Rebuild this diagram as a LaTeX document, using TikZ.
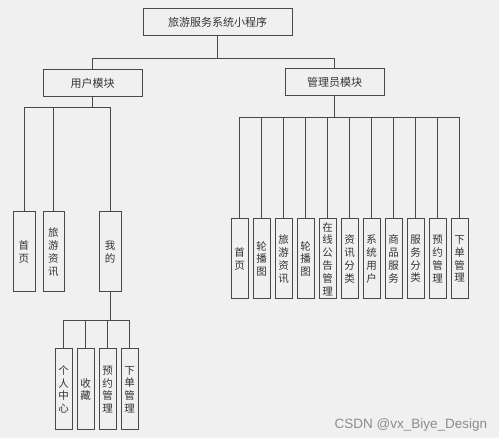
\documentclass[tikz,border=0pt]{standalone}
\usepackage{fontspec}
\setmainfont{Noto Sans CJK SC}
\newfontfamily\wmfont{Liberation Sans}
\definecolor{bg}{HTML}{F0F0F0}
\definecolor{ln}{HTML}{484848}

\begin{document}
\begin{tikzpicture}[x=1pt, y=1pt, line width=1pt,
    box/.style = {draw=ln, fill=bg, inner sep=0pt, font=\fontsize{10.5}{12.8}\selectfont, text=black!80},
    wide/.style = {box, minimum height=27pt, font=\fontsize{11}{13}\selectfont},
    tall/.style = {box, minimum width=17pt, minimum height=80pt, align=center}]
    \useasboundingbox[fill=bg] (0,0) rectangle (499,-438);

    \node[wide, minimum width=149pt] (0) at (217.5,-22.5) {旅游服务系统小程序};
    \node[wide, minimum width=99pt] (1) at (92.5,-83) {用户模块};
    \node[wide, minimum width=99pt] (2) at (334.5,-82.5) {管理员模块};

    % user module
    \node[tall, minimum width=22pt] (u1) at (24,-252) {首\\页};
    \node[tall, minimum width=21pt] (u2) at (53.5,-252) {旅\\游\\资\\讯};
    \node[tall, minimum width=22pt] (u3) at (110,-252) {我\\的};

    \node[tall, minimum height=81pt] (m1) at (63.5,-389.5) {个\\人\\中\\心};
    \node[tall, minimum height=81pt] (m2) at (85.5,-389.5) {收\\藏};
    \node[tall, minimum height=81pt] (m3) at (107.5,-389.5) {预\\约\\管\\理};
    \node[tall, minimum height=81pt] (m4) at (129.5,-389.5) {下\\单\\管\\理};

    % admin module
    \node[tall] (a1) at (239.5,-259) {首\\页};
    \node[tall] (a2) at (261.5,-259) {轮\\播\\图};
    \node[tall] (a3) at (283.5,-259) {旅\\游\\资\\讯};
    \node[tall] (a4) at (305.5,-259) {轮\\播\\图};
    \node[tall] (a5) at (327.5,-259) {在\\线\\公\\告\\管\\理};
    \node[tall] (a6) at (349.5,-259) {资\\讯\\分\\类};
    \node[tall] (a7) at (371.5,-259) {系\\统\\用\\户};
    \node[tall] (a8) at (393.5,-259) {商\\品\\服\\务};
    \node[tall] (a9) at (415.5,-259) {服\\务\\分\\类};
    \node[tall] (a10) at (437.5,-259) {预\\约\\管\\理};
    \node[tall] (a11) at (459.5,-259) {下\\单\\管\\理};

    \draw[ln] (0.south) -- ++(0,-22) -| (1.north);
    \draw[ln] (0.south) -- ++(0,-22) -| (2.north);
    \foreach \n in {u1,u2,u3}
        \draw[ln] (1.south) -- ++(0,-11) -| (\n.north);
    \foreach \n in {m1,m2,m3,m4}
        \draw[ln] (u3.south) -- ++(0,-28) -| (\n.north);
    \foreach \n in {a1,a2,a3,a4,a5,a6,a7,a8,a9,a10,a11}
        \draw[ln] (2.south) -- ++(0,-21) -| (\n.north);

    \node[font=\wmfont\fontsize{13.5}{16}\selectfont, text=black!45] (wm) at (411,-425) {CSDN @vx\_Biye\_Design};
\end{tikzpicture}
\end{document}
